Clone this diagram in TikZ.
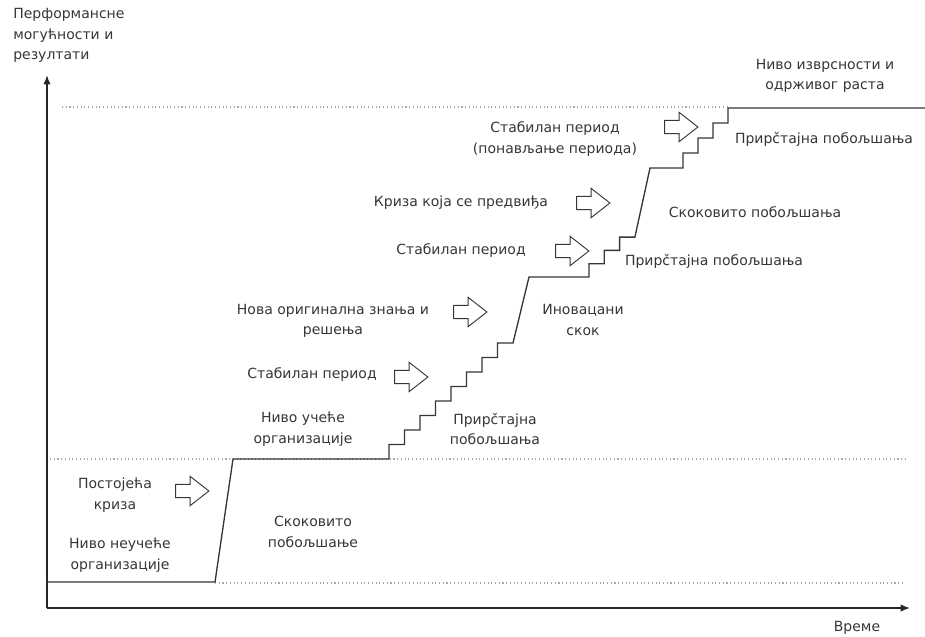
\documentclass[tikz,border=0pt]{standalone}
\usepackage{fontspec}
\setmainfont{DejaVu Sans}
\usetikzlibrary{arrows.meta,shapes.arrows}
\definecolor{ink}{HTML}{363636}
\definecolor{dots}{HTML}{A8A8A8}
\tikzset{
  lbl/.style={text=ink,align=center,inner sep=0pt,font=\fontsize{10.5}{15.5}\selectfont},
  hollow/.style={single arrow,draw=ink,line width=.7pt,minimum height=25pt,
    single arrow head extend=6pt,single arrow tip angle=76,inner xsep=0pt,inner ysep=4.6pt},
  level/.style={dots,dotted,line width=.8pt},
  curve/.style={ink,line width=1pt,line join=miter},
  axis/.style={black!85,line width=1.1pt,-{Latex[length=7pt,width=5.5pt]}}
}
\begin{document}
\begin{tikzpicture}[x=0.75pt,y=-0.75pt]
  \useasboundingbox (0,0) rectangle (925,636);
  \coordinate (o) at (47,608);
  \coordinate (ytop) at (47,75);
  \coordinate (xend) at (910,608);
  \draw[axis] (o) -- (ytop);
  \draw[axis] (o) -- (xend);
  \node[lbl,anchor=north west,align=left] (yl) at (13,8) {Перформансне\\могућности и\\резултати};
  \node[lbl] (xl) at (857,628) {Време};

  \draw[level] (215,583) -- (905,583);
  \draw[level] (50,459) -- (905,459);
  \draw[level] (62,107) -- (728,107);

  \draw[curve] (47,582) -- (215,582) -- (233,459) -- (389,459)
    \foreach \i in {1,...,8}{ -- ++(0,-14.5) -- ++(15.5,0)}
    -- (529,277) -- (589,277)
    \foreach \i in {1,2,3}{ -- ++(0,-13.3) -- ++(15.3,0)}
    -- (650,168) -- (683,168)
    \foreach \i in {1,...,4}{ -- ++(0,-15) -- ++(15,0)}
    -- (925,108);

  \node[lbl] (top) at (825,76) {Ниво изврсности и\\одрживог раста};
  \node[lbl] (rep) at (555,139) {Стабилан период\\(понављање периода)};
  \node[lbl] (inc3) at (824,139) {Прирčтајна побољшања};
  \node[lbl] (crf) at (461,203) {Криза која се предвиђа};
  \node[lbl] (jmp2) at (755,212) {Скоковито побољшања};
  \node[lbl] (st2) at (461,251) {Стабилан период};
  \node[lbl] (inc2) at (714,261) {Прирčтајна побољшања};
  \node[lbl] (new) at (333,321) {Нова оригинална знања и\\решења};
  \node[lbl] (inn) at (583,320) {Иновацани\\скок};
  \node[lbl] (st1) at (312,375) {Стабилан период};
  \node[lbl] (lrn) at (303,429) {Ниво учеће\\организације};
  \node[lbl] (inc1) at (495,429) {Прирčтајна\\побољшања};
  \node[lbl] (crn) at (115,495) {Постојећа\\криза};
  \node[lbl] (jmp1) at (313,532) {Скоковито\\побољшање};
  \node[lbl] (nol) at (120,555) {Ниво неучеће\\организације};

  \node[hollow] (a1) at (188,491) {};
  \node[hollow] (a2) at (407,377) {};
  \node[hollow] (a3) at (466,312) {};
  \node[hollow] (a4) at (568,251) {};
  \node[hollow] (a5) at (589,203) {};
  \node[hollow] (a6) at (677,127) {};
\end{tikzpicture}
\end{document}
